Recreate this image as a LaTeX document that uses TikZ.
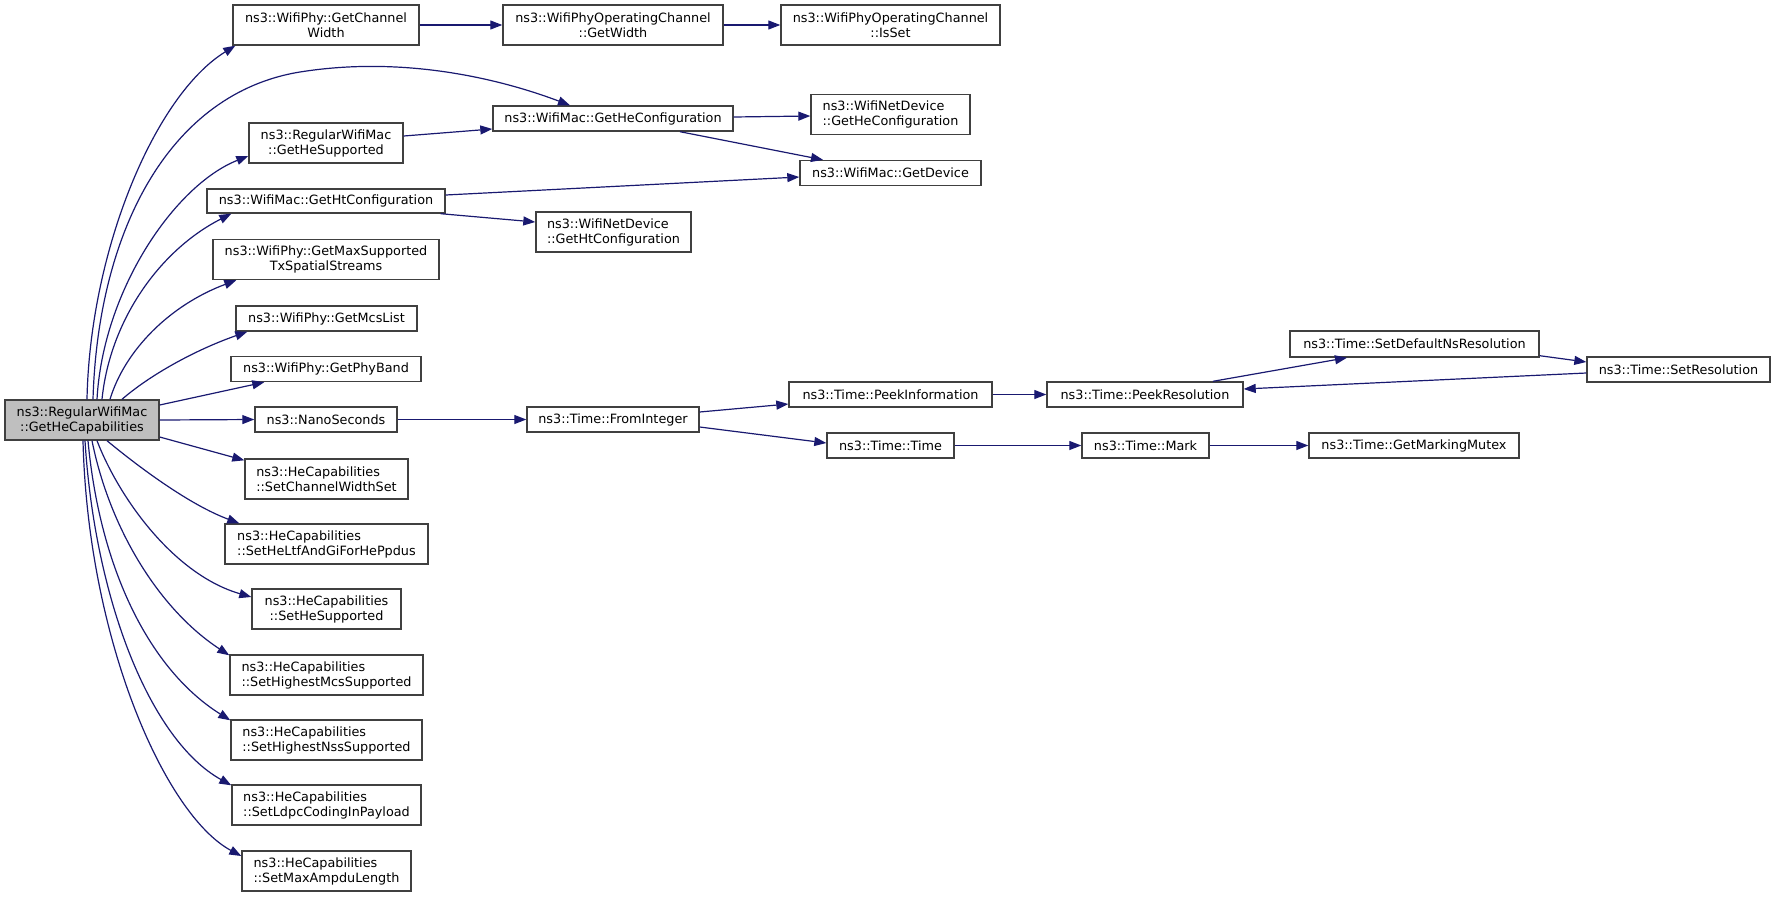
\documentclass[tikz,border=0pt]{standalone}
\usepackage{fontspec}
\setmainfont{DejaVu Sans}
\usetikzlibrary{arrows.meta}
\definecolor{edgeblue}{HTML}{191970}
\definecolor{boxborder}{HTML}{404040}
\definecolor{mainfill}{HTML}{BFBFBF}
\begin{document}
\begin{tikzpicture}[x=1pt,y=-1pt,
  fn/.style={draw=boxborder, line width=1.4pt, fill=white, inner sep=0pt,
    font=\fontsize{12.8}{15}\selectfont, align=center},
  fnl/.style={fn, align=left},
  sz/.style 2 args={minimum width=#1pt, minimum height=#2pt},
  edge/.style={draw=edgeblue, line width=1.2pt, -{Triangle[length=12pt,width=9pt]}}]
\useasboundingbox (0,0) rectangle (1776,897);

% nodes
\node[fn, sz={154}{40}, fill=mainfill] (main) at (82,420) {ns3::RegularWifiMac\\::GetHeCapabilities};
\node[fn, sz={186}{40}] (cw) at (326,25) {ns3::WifiPhy::GetChannel\\Width};
\node[fn, sz={220}{40}] (gw) at (613,25) {ns3::WifiPhyOperatingChannel\\::GetWidth};
\node[fn, sz={219}{40}] (isset) at (890.5,25) {ns3::WifiPhyOperatingChannel\\::IsSet};
\node[fn, sz={240}{25}] (hecfg) at (613,118.5) {ns3::WifiMac::GetHeConfiguration};
\node[fn, sz={154}{40}] (hesup) at (326,143) {ns3::RegularWifiMac\\::GetHeSupported};
\node[fn, sz={238}{24}] (htcfg) at (326,201) {ns3::WifiMac::GetHtConfiguration};
\node[fnl, sz={159}{40}] (ndhe) at (890.5,114.5) {ns3::WifiNetDevice\\::GetHeConfiguration};
\node[fn, sz={181}{25}] (dev) at (890.5,173) {ns3::WifiMac::GetDevice};
\node[fnl, sz={155}{40}] (ndht) at (613.5,232) {ns3::WifiNetDevice\\::GetHtConfiguration};
\node[fn, sz={226}{40}] (maxss) at (326,259.5) {ns3::WifiPhy::GetMaxSupported\\TxSpatialStreams};
\node[fn, sz={181}{25}] (mcs) at (326.5,318.5) {ns3::WifiPhy::GetMcsList};
\node[fn, sz={190}{25}] (band) at (326,369) {ns3::WifiPhy::GetPhyBand};
\node[fn, sz={142}{25}] (nano) at (326,419.5) {ns3::NanoSeconds};
\node[fn, sz={172}{25}] (fromint) at (613,419.5) {ns3::Time::FromInteger};
\node[fn, sz={203}{25}] (peekinfo) at (890.5,394.5) {ns3::Time::PeekInformation};
\node[fn, sz={127}{25}] (ttime) at (890.5,445.5) {ns3::Time::Time};
\node[fn, sz={196}{25}] (peekres) at (1145,394.5) {ns3::Time::PeekResolution};
\node[fn, sz={127}{25}] (mark) at (1145.5,445.5) {ns3::Time::Mark};
\node[fn, sz={249}{26}] (setdef) at (1414.5,344) {ns3::Time::SetDefaultNsResolution};
\node[fn, sz={210}{25}] (mutex) at (1414,445.5) {ns3::Time::GetMarkingMutex};
\node[fn, sz={183}{25}] (setres) at (1678.5,369.5) {ns3::Time::SetResolution};
\node[fnl, sz={163}{40}] (hc1) at (326.5,479) {ns3::HeCapabilities\\::SetChannelWidthSet};
\node[fnl, sz={203}{40}] (hc2) at (326.5,544) {ns3::HeCapabilities\\::SetHeLtfAndGiForHePpdus};
\node[fn, sz={149}{40}] (hc3) at (326.5,609) {ns3::HeCapabilities\\::SetHeSupported};
\node[fnl, sz={193}{40}] (hc4) at (326.5,675) {ns3::HeCapabilities\\::SetHighestMcsSupported};
\node[fnl, sz={191}{40}] (hc5) at (326.5,740) {ns3::HeCapabilities\\::SetHighestNssSupported};
\node[fnl, sz={189}{40}] (hc6) at (326.5,805) {ns3::HeCapabilities\\::SetLdpcCodingInPayload};
\node[fnl, sz={169}{40}] (hc7) at (326.5,871) {ns3::HeCapabilities\\::SetMaxAmpduLength};

% curved edges from main (upwards)
\draw[edge] ([xshift=5pt]main.north) .. controls (90,250) and (155,95) .. ([xshift=3pt]cw.south west);
\draw[edge] ([xshift=11pt]main.north) .. controls (98,230) and (170,93) .. (300,72)
   .. controls (400,56) and (495,77) .. ([xshift=-43pt]hecfg.north);
\draw[edge] ([xshift=15pt]main.north) .. controls (103,290) and (175,185) .. ([yshift=-13pt]hesup.west);
\draw[edge] ([xshift=20pt]main.north) .. controls (110,320) and (160,250) .. ([xshift=25pt]htcfg.south west);
\draw[edge] ([xshift=28pt]main.north) .. controls (125,350) and (170,305) .. ([xshift=24pt]maxss.south west);
\draw[edge] ([xshift=40pt]main.north) .. controls (150,375) and (195,350) .. ([xshift=12pt]mcs.south west);
\draw[edge] ([yshift=15pt]main.east) -- ([xshift=34pt]band.south west);
\draw[edge] (main.east) -- (nano.west);
\draw[edge] ([yshift=-17pt]main.east) -- ([yshift=-2pt]hc1.north west);
% curved edges from main (downwards)
\draw[edge] ([xshift=25pt]main.south) .. controls (140,468) and (190,505) .. ([xshift=15pt]hc2.north west);
\draw[edge] ([xshift=15pt]main.south) .. controls (120,500) and (175,575) .. ([yshift=12pt]hc3.west);
\draw[edge] ([xshift=10pt]main.south) .. controls (110,530) and (160,610) .. ([yshift=-1pt]hc4.north west);
\draw[edge] ([xshift=6pt]main.south) .. controls (100,570) and (150,670) .. ([yshift=-1pt]hc5.north west);
\draw[edge] ([xshift=3pt]main.south) .. controls (95,600) and (150,740) .. ([yshift=-1pt]hc6.north west);
\draw[edge] ([xshift=1pt]main.south) .. controls (88,640) and (165,815) .. ([yshift=15pt]hc7.west);

% other edges
\draw[edge] (cw.east) -- (gw.west);
\draw[edge] (gw.east) -- (isset.west);
\draw[edge] ([yshift=7pt]hesup.east) -- ([yshift=-10.5pt]hecfg.west);
\draw[edge] ([yshift=1.5pt]hecfg.east) -- ([yshift=-1.5pt]ndhe.west);
\draw[edge] ([xshift=67pt]hecfg.south) -- ([xshift=-67.5pt]dev.north);
\draw[edge] ([yshift=6pt]htcfg.east) -- ([yshift=-4pt]dev.west);
\draw[edge] ([xshift=-5pt]htcfg.south east) -- ([yshift=10pt]ndht.west);
\draw[edge] (nano.east) -- (fromint.west);
\draw[edge] ([yshift=7.5pt]fromint.east) -- ([yshift=-9.5pt]peekinfo.west);
\draw[edge] ([yshift=-7.5pt]fromint.east) -- ([yshift=2.5pt]ttime.west);
\draw[edge] (peekinfo.east) -- (peekres.west);
\draw[edge] ([xshift=68pt]peekres.north) -- ([xshift=-67.5pt]setdef.south);
\draw[edge] ([yshift=2pt]setdef.south east) -- ([yshift=7.5pt]setres.west);
\draw[edge] ([yshift=-3.5pt]setres.west) -- ([yshift=5.5pt]peekres.east);
\draw[edge] (ttime.east) -- (mark.west);
\draw[edge] (mark.east) -- (mutex.west);
\end{tikzpicture}
\end{document}
